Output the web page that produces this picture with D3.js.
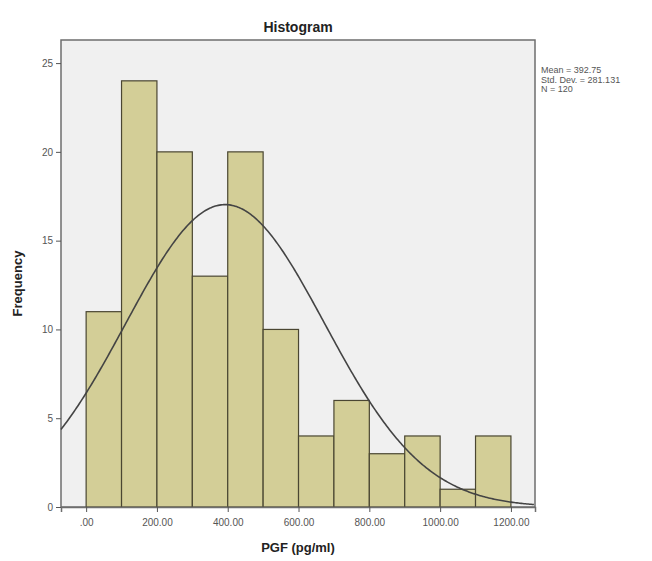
<!DOCTYPE html>
<html>
<head>
<meta charset="utf-8">
<script src="https://cdn.jsdelivr.net/npm/d3@7"></script>
<style>
  body { margin: 0; background: #fff; }
  svg text { font-family: Arial, "Liberation Sans", sans-serif; }
</style>
</head>
<body>
<div id="chart"></div>
<script>
// histogram bins (lower edge, count), width 100
const binStarts = [0, 100, 200, 300, 400, 500, 600, 700, 800, 900, 1000, 1100];
const counts = [11, 24, 20, 13, 20, 10, 4, 6, 3, 4, 1, 4];
const binWidth = 100;
const xTicks = [0, 200, 400, 600, 800, 1000, 1200];
const yTicks = [0, 5, 10, 15, 20, 25];
const statsLines = ["Mean = 392.75", "Std. Dev. = 281.131", "N = 120"];
const mean = 392.75, sd = 281.131, n = 120;

const width = 652, height = 561;
const plotL = 61, plotR = 535, plotT = 40, plotB = 507;

const svg = d3.select("#chart").append("svg")
    .attr("width", width)
    .attr("height", height);

const x = d3.scaleLinear().domain([-71, 1268]).range([plotL, plotR]);
const y = d3.scaleLinear().domain([0, 26.3]).range([plotB, plotT]);

// plot background
svg.append("rect")
    .attr("x", plotL).attr("y", plotT)
    .attr("width", plotR - plotL).attr("height", plotB - plotT)
    .attr("fill", "#f0f0f0")
    .attr("stroke", "#6e6e6e")
    .attr("stroke-width", 1.5);

// bars
svg.selectAll(".bar")
    .data(counts)
    .enter()
    .append("rect")
    .attr("class", "bar")
    .attr("x", (d, i) => x(binStarts[i]))
    .attr("y", d => y(d))
    .attr("width", (d, i) => x(binStarts[i] + binWidth) - x(binStarts[i]))
    .attr("height", d => plotB - y(d))
    .attr("fill", "#d3ce97")
    .attr("stroke", "#4a4632")
    .attr("stroke-width", 1.2);

// normal curve from stated mean / sd / N
const pts = d3.range(-71, 1268.5, 4).map(v => {
    const z = (v - mean) / sd;
    return [v, n * binWidth * Math.exp(-0.5 * z * z) / (sd * Math.sqrt(2 * Math.PI))];
});
svg.append("path")
    .datum(pts)
    .attr("fill", "none")
    .attr("stroke", "#444")
    .attr("stroke-width", 1.6)
    .attr("d", d3.line().x(d => x(d[0])).y(d => y(d[1])));

// axes
const xAxis = d3.axisBottom(x).tickValues(xTicks).tickSize(5)
    .tickFormat(d => d === 0 ? ".00" : d3.format(".2f")(d));
svg.append("g")
    .attr("transform", `translate(0,${plotB})`)
    .call(xAxis)
    .call(g => g.select(".domain").attr("stroke", "#6e6e6e").attr("stroke-width", 1.5))
    .call(g => g.selectAll(".tick line").attr("stroke", "#555"))
    .call(g => g.selectAll(".tick text").attr("fill", "#555").attr("font-size", 10).attr("dy", "1.1em"));

const yAxis = d3.axisLeft(y).tickValues(yTicks).tickSize(5).tickFormat(d3.format("d"));
svg.append("g")
    .attr("transform", `translate(${plotL},0)`)
    .call(yAxis)
    .call(g => g.select(".domain").remove())
    .call(g => g.selectAll(".tick line").attr("stroke", "#555"))
    .call(g => g.selectAll(".tick text").attr("fill", "#555").attr("font-size", 10));

// title and labels
svg.append("text")
    .attr("x", (plotL + plotR) / 2).attr("y", 32)
    .attr("text-anchor", "middle")
    .attr("font-size", 14).attr("font-weight", "bold").attr("fill", "#222")
    .text("Histogram");

svg.append("text")
    .attr("x", (plotL + plotR) / 2).attr("y", 552)
    .attr("text-anchor", "middle")
    .attr("font-size", 13).attr("font-weight", "bold").attr("fill", "#222")
    .text("PGF (pg/ml)");

svg.append("text")
    .attr("transform", `translate(22,${(plotT + plotB) / 2 + 10}) rotate(-90)`)
    .attr("text-anchor", "middle")
    .attr("font-size", 13).attr("font-weight", "bold").attr("fill", "#222")
    .text("Frequency");

svg.append("g")
    .selectAll("text")
    .data(statsLines)
    .enter()
    .append("text")
    .attr("x", 541)
    .attr("y", (d, i) => 73 + i * 9.5)
    .attr("font-size", 9).attr("fill", "#555")
    .text(d => d);
</script>
</body>
</html>
